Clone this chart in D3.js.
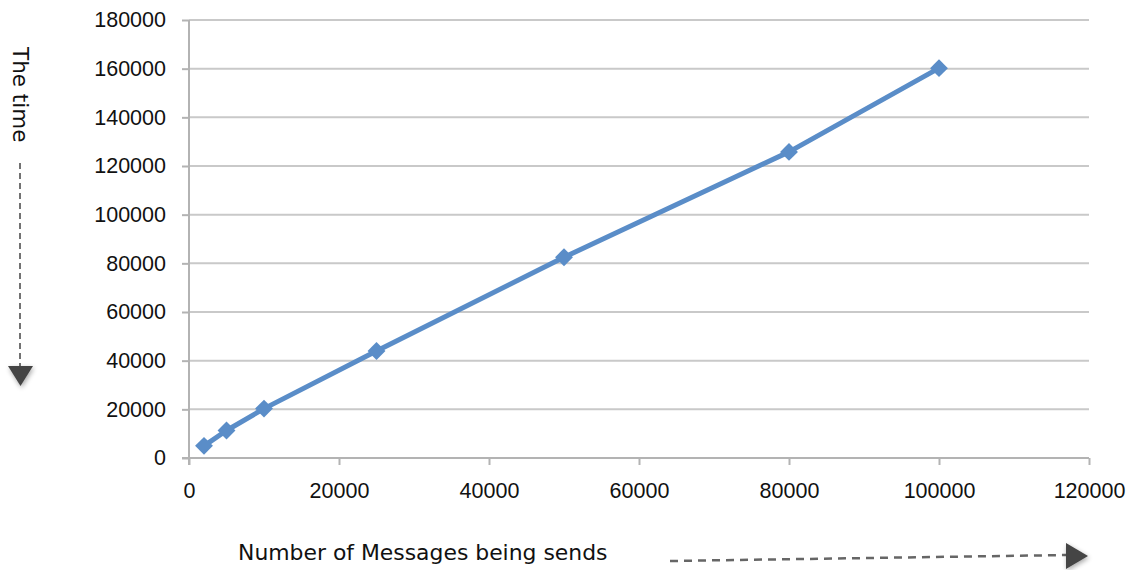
<!DOCTYPE html>
<html>
<head>
<meta charset="utf-8">
<script src="https://cdn.jsdelivr.net/npm/d3@7"></script>
<style>
  html, body { margin: 0; padding: 0; background: #fff; }
  svg { display: block; font-family: "Liberation Sans", Arial, sans-serif; }
</style>
</head>
<body>
<svg id="chart" width="1129" height="570"></svg>
<script>
// Messages sent vs. time taken
const messages = [2000, 5000, 10000, 25000, 50000, 80000, 100000];
const timeTaken = [5000, 11300, 20300, 44000, 82500, 125800, 160200];
const xTicks = [0, 20000, 40000, 60000, 80000, 100000, 120000];
const yTicks = [0, 20000, 40000, 60000, 80000, 100000, 120000, 140000, 160000, 180000];
const xTitle = "Number of Messages being sends";
const yTitle = "The time";

const svg = d3.select("#chart");

const x = d3.scaleLinear().domain([0, 120000]).range([189, 1089]);
const y = d3.scaleLinear().domain([0, 180000]).range([458, 20]);

const gridColor = "#c9c9c9";
const axisColor = "#b3b3b3";
const lineColor = "#5a8dc8";
const titleFont = "'DejaVu Sans', Verdana, sans-serif";

// drop shadow for the arrowheads
const defs = svg.append("defs");
const shadow = defs.append("filter").attr("id", "shadow")
  .attr("x", "-50%").attr("y", "-50%").attr("width", "200%").attr("height", "200%");
shadow.append("feGaussianBlur").attr("in", "SourceAlpha").attr("stdDeviation", 2.5);
shadow.append("feOffset").attr("dx", 1).attr("dy", 2).attr("result", "blur");
shadow.append("feComponentTransfer").append("feFuncA").attr("type", "linear").attr("slope", 0.35);
const merge = shadow.append("feMerge");
merge.append("feMergeNode");
merge.append("feMergeNode").attr("in", "SourceGraphic");

// horizontal gridlines
svg.append("g").selectAll("line")
  .data(yTicks.filter(d => d > 0))
  .join("line")
  .attr("x1", x(0)).attr("x2", x(120000))
  .attr("y1", d => y(d)).attr("y2", d => y(d))
  .attr("stroke", gridColor).attr("stroke-width", 2);

// y axis
const yAxis = d3.axisLeft(y).tickValues(yTicks).tickSize(7).tickPadding(16).tickFormat(d3.format("d"));
const gy = svg.append("g").attr("transform", `translate(${x(0)},0)`).call(yAxis);
gy.select(".domain").remove();
gy.selectAll(".tick line").attr("stroke", axisColor).attr("stroke-width", 2);
gy.selectAll(".tick text").attr("font-size", 21.5).attr("fill", "#111")
  .attr("font-family", "'Liberation Sans', Arial, sans-serif");
svg.append("line")
  .attr("x1", x(0)).attr("x2", x(0)).attr("y1", y(180000)).attr("y2", y(0) + 7)
  .attr("stroke", axisColor).attr("stroke-width", 2);

// x axis
const xAxis = d3.axisBottom(x).tickValues(xTicks).tickSize(7).tickPadding(18).tickFormat(d3.format("d"));
const gx = svg.append("g").attr("transform", `translate(0,${y(0)})`).call(xAxis);
gx.select(".domain").remove();
gx.selectAll(".tick line").attr("stroke", axisColor).attr("stroke-width", 2);
gx.selectAll(".tick text").attr("font-size", 21.5).attr("fill", "#111")
  .attr("font-family", "'Liberation Sans', Arial, sans-serif");
svg.append("line")
  .attr("x1", x(0) - 7).attr("x2", x(120000)).attr("y1", y(0)).attr("y2", y(0))
  .attr("stroke", axisColor).attr("stroke-width", 2);

// data line
const pts = messages.map((m, i) => [m, timeTaken[i]]);
svg.append("path")
  .datum(pts)
  .attr("fill", "none")
  .attr("stroke", lineColor)
  .attr("stroke-width", 5)
  .attr("stroke-linejoin", "round")
  .attr("d", d3.line().x(d => x(d[0])).y(d => y(d[1])));

// diamond markers
svg.append("g").selectAll("path")
  .data(pts)
  .join("path")
  .attr("transform", d => `translate(${x(d[0])},${y(d[1])}) rotate(45)`)
  .attr("d", d3.symbol(d3.symbolSquare, 160)())
  .attr("fill", lineColor);

// y title, reading downwards
svg.append("text")
  .attr("transform", "translate(13,47) rotate(90)")
  .attr("font-family", titleFont)
  .attr("font-size", 21.5)
  .attr("fill", "#111")
  .text(yTitle);

// dashed downward arrow
svg.append("line")
  .attr("x1", 20).attr("x2", 20).attr("y1", 163).attr("y2", 366)
  .attr("stroke", "#444").attr("stroke-width", 1.5).attr("stroke-dasharray", "6,4");
svg.append("path")
  .attr("d", "M8,366 L33,366 L20.5,386 Z")
  .attr("fill", "#444").attr("filter", "url(#shadow)");

// x title
svg.append("text")
  .attr("x", 238).attr("y", 560)
  .attr("font-family", titleFont)
  .attr("font-size", 21.9)
  .attr("fill", "#111")
  .text(xTitle);

// dashed rightward arrow
svg.append("line")
  .attr("x1", 670).attr("x2", 1067).attr("y1", 561).attr("y2", 555)
  .attr("stroke", "#666").attr("stroke-width", 2.5).attr("stroke-dasharray", "8,6");
svg.append("path")
  .attr("d", "M1066,543 L1088,556 L1066,569 Z")
  .attr("fill", "#444").attr("filter", "url(#shadow)");
</script>
</body>
</html>
